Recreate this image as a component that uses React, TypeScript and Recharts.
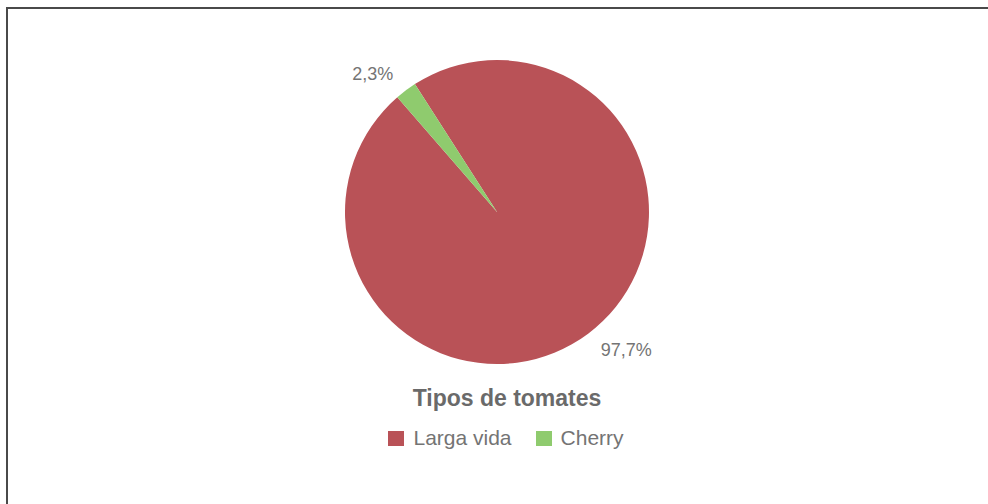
import { PieChart, Pie, Cell, Legend } from "recharts";

const categories = ["Larga vida", "Cherry"];
const shares = [97.7, 2.3];
const sliceColors = ["#B95257", "#8FCB6E"];
const chartTitle = "Tipos de tomates";

const data = categories.map((name, i) => ({ name, value: shares[i] }));

const RADIAN = Math.PI / 180;
const FONT = "'Liberation Sans', Arial, sans-serif";

function renderLabel(props: any) {
  const { cx, cy, midAngle, outerRadius, value } = props;
  const r = outerRadius + 21;
  const x = cx + r * Math.cos(-midAngle * RADIAN);
  const y = cy + r * Math.sin(-midAngle * RADIAN);
  return (
    <text
      x={x}
      y={y}
      fill="#747474"
      fontSize={18}
      fontFamily={FONT}
      textAnchor={x > cx ? "start" : "end"}
      dominantBaseline="central"
    >
      {Number(value).toFixed(1).replace(".", ",") + "%"}
    </text>
  );
}

function renderLegend() {
  return (
    <div style={{ fontFamily: FONT, textAlign: "center", width: 988 }}>
      <div
        style={{
          fontSize: 23,
          fontWeight: "bold",
          color: "#6a6a6a",
          marginLeft: 26,
          lineHeight: "26px",
        }}
      >
        {chartTitle}
      </div>
      <div
        style={{
          marginTop: 15,
          display: "flex",
          justifyContent: "center",
          alignItems: "center",
          marginLeft: 24,
          gap: 24,
        }}
      >
        {categories.map((c, i) => (
          <div key={c} style={{ display: "flex", alignItems: "center" }}>
            <span
              style={{
                display: "inline-block",
                width: 16,
                height: 15,
                background: sliceColors[i],
                marginRight: 9,
              }}
            />
            <span style={{ fontSize: 21, color: "#747474" }}>{c}</span>
          </div>
        ))}
      </div>
    </div>
  );
}

export default function App() {
  return (
    <div
      style={{
        position: "fixed",
        left: 0,
        top: 0,
        width: 988,
        height: 504,
        background: "#fff",
      }}
    >
      <svg
        width={988}
        height={504}
        style={{ position: "absolute", left: 0, top: 0 }}
      >
        <rect x={6} y={7} width={982} height={2} fill="#4a4a4a" />
        <rect x={6} y={7} width={2} height={497} fill="#4a4a4a" />
      </svg>
      <div style={{ position: "absolute", left: 0, top: 0 }}>
        <PieChart
          width={988}
          height={504}
          margin={{ top: 0, right: 0, bottom: 0, left: 0 }}
        >
          <Pie
            data={data}
            dataKey="value"
            nameKey="name"
            cx={497}
            cy={212}
            outerRadius={152}
            startAngle={122.7}
            endAngle={-237.3}
            stroke="none"
            label={renderLabel}
            labelLine={false}
            isAnimationActive={false}
          >
            {data.map((d, i) => (
              <Cell key={d.name} fill={sliceColors[i]} />
            ))}
          </Pie>
          <Legend
            content={renderLegend}
            wrapperStyle={{ position: "absolute", top: 385, left: 0, width: 988 }}
          />
        </PieChart>
      </div>
    </div>
  );
}
